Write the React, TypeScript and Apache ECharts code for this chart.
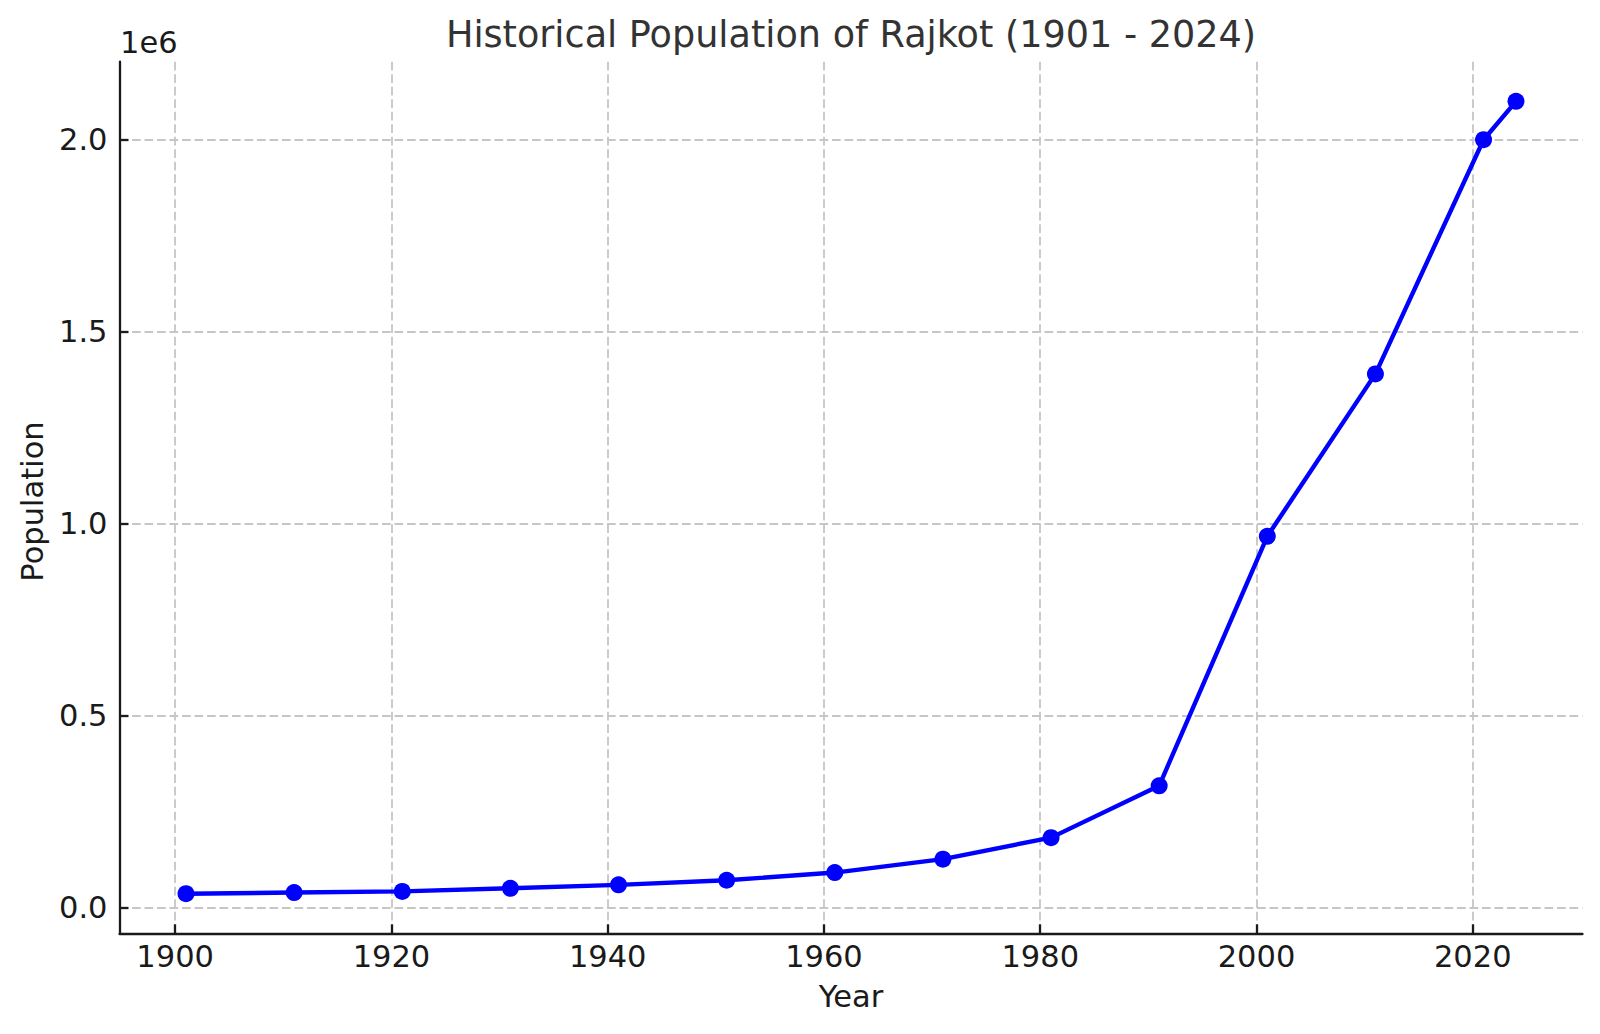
import React, { useEffect, useRef } from "react";
import * as echarts from "echarts";

const years = [1901, 1911, 1921, 1931, 1941, 1951, 1961, 1971, 1981, 1991, 2001, 2011, 2021, 2024];
const population = [36000, 39000, 42000, 50000, 59000, 71000, 91000, 126000, 182000, 317000, 967000, 1390000, 2000000, 2100000];
const xTicks = [1900, 1920, 1940, 1960, 1980, 2000, 2020];
const yTicks = [0, 500000, 1000000, 1500000, 2000000];
const titleText = "Historical Population of Rajkot (1901 - 2024)";
const xName = "Year";
const yName = "Population";
const offsetText = "1e6";

const FONT = "DejaVu Sans";

export default function App() {
  const ref = useRef<HTMLDivElement>(null);
  useEffect(() => {
    document.body.style.margin = "0";
    const chart = echarts.init(ref.current!, null, { renderer: "svg" });
    const dMin = Math.min(...population);
    const dMax = Math.max(...population);
    const yPad = (dMax - dMin) * 0.05;
    const xPad = (years[years.length - 1] - years[0]) * 0.05;
    const gridLine = { show: true, lineStyle: { color: "#c6c6c6", width: 1.8, type: [8.7, 3.8] as any } };
    chart.setOption({
      animation: false,
      backgroundColor: "#ffffff",
      title: {
        text: titleText,
        left: 851,
        textAlign: "center",
        top: 16,
        padding: 0,
        textStyle: { fontFamily: FONT, fontSize: 36.6, fontWeight: "normal", color: "#333333" },
      },
      grid: { left: 119.5, right: 17.5, top: 61.7, bottom: 100.7, containLabel: false },
      xAxis: {
        type: "value",
        min: years[0] - xPad,
        max: years[years.length - 1] + xPad,
        name: xName,
        nameLocation: "middle",
        nameGap: 48,
        nameTextStyle: { fontFamily: FONT, fontSize: 30.5, color: "#1a1a1a" },
        axisLine: { show: true, onZero: false, lineStyle: { color: "#1a1a1a", width: 2.3 } },
        axisTick: { show: true, inside: true, length: 9, customValues: xTicks, lineStyle: { color: "#1a1a1a", width: 2.3 } },
        axisLabel: {
          customValues: xTicks,
          margin: 8,
          fontFamily: FONT,
          fontSize: 30.5,
          color: "#1a1a1a",
          formatter: (v: number) => String(v),
        },
        splitLine: gridLine,
      },
      yAxis: {
        type: "value",
        min: dMin - yPad,
        max: dMax + yPad,
        name: yName,
        nameLocation: "middle",
        nameGap: 71,
        nameRotate: 90,
        nameTextStyle: { fontFamily: FONT, fontSize: 30.5, color: "#1a1a1a", padding: [0, 8, 0, 0] },
        axisLine: { show: true, onZero: false, lineStyle: { color: "#1a1a1a", width: 2.3 } },
        axisTick: { show: true, inside: true, length: 9, customValues: yTicks, lineStyle: { color: "#1a1a1a", width: 2.3 } },
        axisLabel: {
          customValues: yTicks,
          margin: 12,
          fontFamily: FONT,
          fontSize: 30.5,
          color: "#1a1a1a",
          formatter: (v: number) => (v / 1e6).toFixed(1),
        },
        splitLine: gridLine,
      },
      graphic: [
        {
          type: "text",
          left: 120,
          top: 27,
          style: { text: offsetText, fontFamily: FONT, fontSize: 30.5, fill: "#1a1a1a" },
        },
      ],
      series: [
        {
          type: "line",
          data: years.map((y, i) => [y, population[i]]),
          lineStyle: { color: "#0000ff", width: 4.4 },
          itemStyle: { color: "#0000ff" },
          symbol: "circle",
          symbolSize: 17,
          showSymbol: true,
          z: 5,
        },
      ],
    });
    return () => chart.dispose();
  }, []);
  return <div ref={ref} style={{ width: 1600, height: 1034 }} />;
}
